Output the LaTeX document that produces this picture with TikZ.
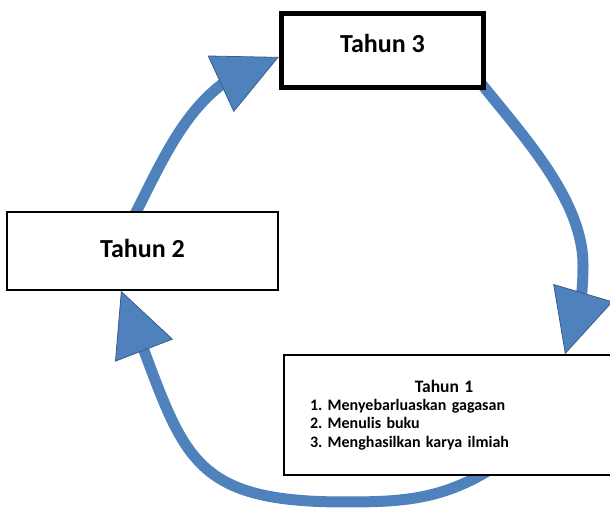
\documentclass[tikz,border=0pt]{standalone}
\usepackage{fontspec}
\setmainfont{Carlito}
\usetikzlibrary{arrows.meta,bending,backgrounds}
\definecolor{siklusbiru}{RGB}{79,129,189}
\definecolor{siklustepi}{RGB}{56,93,138}

\begin{document}
\begin{tikzpicture}[x=1pt, y=1pt,
    tahun/.style = {draw, fill=white, line width=1.6pt, font=\bfseries\fontsize{26}{31}\selectfont},
    panah/.style = {line width=11pt, draw=siklusbiru, -{Triangle[flex, length=64pt, width=62pt, line width=0.8pt, color=siklustepi, fill=siklusbiru]}}]
    \useasboundingbox (0,0) rectangle (610,510);
    \node[tahun, minimum width=328pt, minimum height=120pt, text width=276pt, align=left, font=\bfseries\fontsize{16}{18.3}\selectfont\frenchspacing] (1) at (448,95) {\makebox[268pt]{\fontsize{17.5}{18.3}\selectfont Tahun 1}\\1. Menyebarluaskan gagasan\\2. Menulis buku\\3. Menghasilkan karya ilmiah};
    \node[tahun, minimum width=271pt, minimum height=78pt, text depth=5pt] (2) at (142.5,259) {Tahun 2};
    \node[tahun, line width=5.5pt, minimum width=202pt, minimum height=74pt, text depth=15pt] (3) at (382.5,459.5) {Tahun 3};
    \begin{scope}[on background layer]
    \draw[panah] ([xshift=-10pt,yshift=13pt]3.south east) to[out=-52, in=90, looseness=0.8] (583,245) to[out=-90, in=68] ([xshift=117pt]1.north);
    \draw[panah] ([xshift=45pt,yshift=8pt]1.south) to[out=-148, in=0] (345,8) to[out=180, in=-68, looseness=1.4] ([xshift=-21.5pt]2.south);
    \draw[panah] ([xshift=-10pt,yshift=-8pt]2.north) to[out=63, in=-165] ([yshift=-6.5pt]3.west);
    \end{scope}
\end{tikzpicture}
\end{document}
